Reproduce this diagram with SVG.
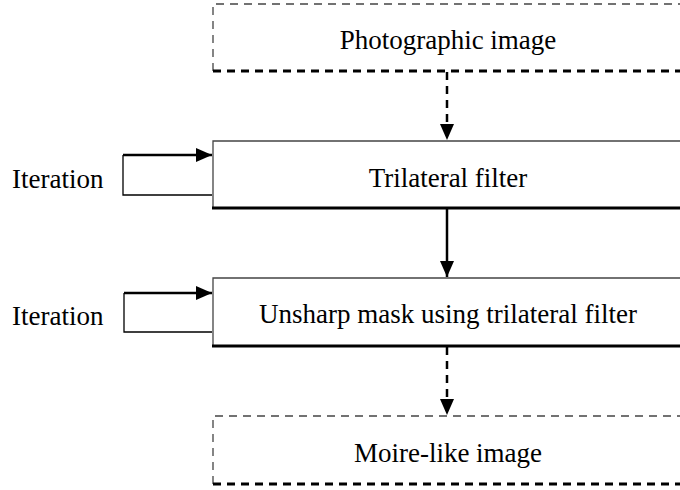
<svg xmlns="http://www.w3.org/2000/svg" width="680" height="490" viewBox="0 0 680 490">
<defs>
<marker id="ahv" markerWidth="16" markerHeight="16" refX="16" refY="7" orient="auto" markerUnits="userSpaceOnUse" viewBox="0 0 16 14">
<path d="M0,0 L16,7 L0,14 z" fill="#000"/>
</marker>
</defs>
<style>
text{font-family:"Liberation Serif","Times New Roman",serif;font-size:27px;fill:#000}
.thin{fill:none;stroke:#444;stroke-width:1.3}
.thick{fill:none;stroke:#000;stroke-width:3}
.dash{stroke-dasharray:8 6}
.conn{fill:none;stroke:#000;stroke-width:2.5}
.loop{fill:none;stroke:#000;stroke-width:1.3}
</style>
<g id="photographic">
<path class="thin dash" d="M213,71 L213,4 L690,4"/>
<path class="thick dash" d="M213,71 L690,71"/>
<text x="448" y="49" text-anchor="middle">Photographic image</text>
</g>
<g id="trilateral">
<path class="thin" d="M213,208 L213,141 L690,141"/>
<path class="thick" d="M212,208 L690,208"/>
<text x="448" y="187" text-anchor="middle">Trilateral filter</text>
</g>
<g id="unsharp">
<path class="thin" d="M213,346 L213,278 L690,278"/>
<path class="thick" d="M212,346 L690,346"/>
<text x="448" y="323" text-anchor="middle">Unsharp mask using trilateral filter</text>
</g>
<g id="moire">
<path class="thin dash" d="M213,484 L213,416 L690,416"/>
<path class="thick dash" d="M213,484 L690,484"/>
<text x="448" y="462" text-anchor="middle">Moire-like image</text>
</g>
<g id="iter1"><text x="12" y="188">Iteration</text></g>
<g id="iter2"><text x="12" y="325">Iteration</text></g>
<g id="connectors">
<path class="conn dash" d="M447,72 L447,140" marker-end="url(#ahv)"/>
<path class="conn" d="M447,209 L447,277" marker-end="url(#ahv)"/>
<path class="conn dash" d="M447,347 L447,415" marker-end="url(#ahv)"/>
<path class="loop" d="M212,195 L123,195 L123,155"/>
<path class="conn" d="M123,155 L212,155" marker-end="url(#ahv)"/>
<path class="loop" d="M212,332 L124,332 L124,293"/>
<path class="conn" d="M124,293 L212,293" marker-end="url(#ahv)"/>
</g>
</svg>
